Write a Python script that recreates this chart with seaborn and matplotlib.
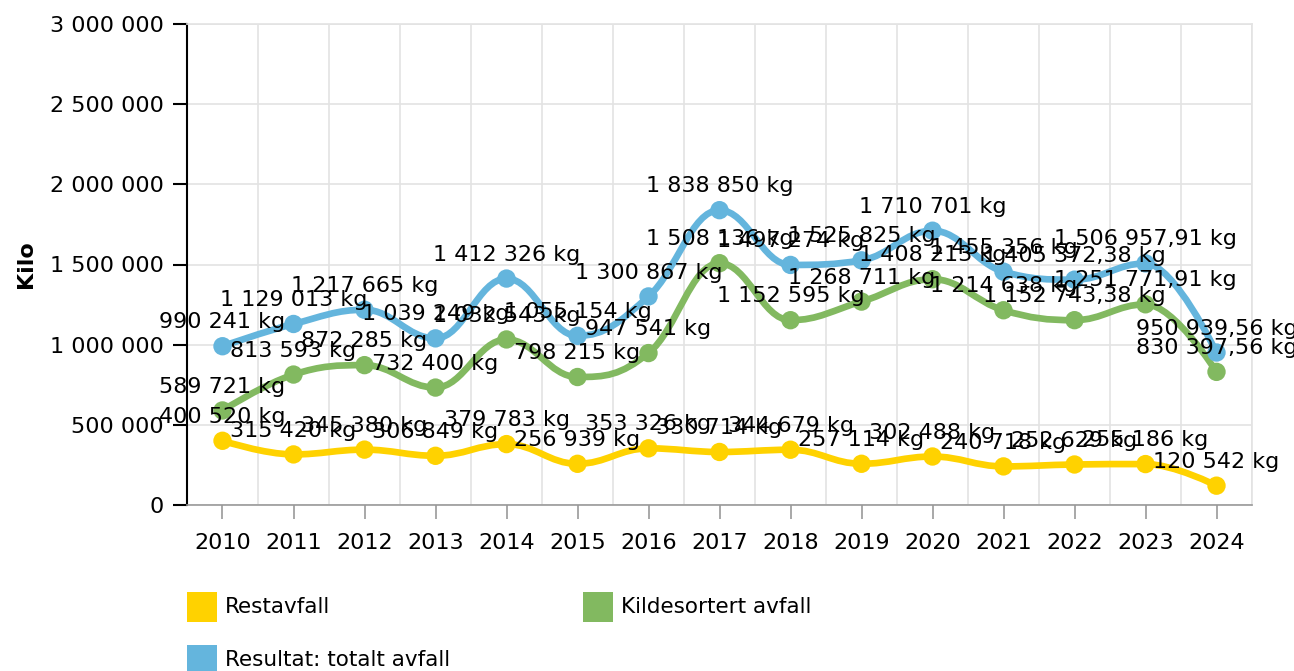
import matplotlib

matplotlib.use('Agg')
import matplotlib.pyplot as plt
import pandas as pd
import seaborn as sns
from matplotlib.patches import PathPatch, Rectangle
from matplotlib.path import Path
from matplotlib.ticker import FixedLocator, FuncFormatter

years = ['2010', '2011', '2012', '2013', '2014', '2015', '2016', '2017',
         '2018', '2019', '2020', '2021', '2022', '2023', '2024']
restavfall = [400520, 315420, 345380, 306849, 379783, 256939, 353326, 330714,
              344679, 257114, 302488, 240718, 252629, 255186, 120542]
kildesortert = [589721, 813593, 872285, 732400, 1032543, 798215, 947541, 1508136,
                1152595, 1268711, 1408213, 1214638, 1152743.38, 1251771.91, 830397.56]
totalt = [990241, 1129013, 1217665, 1039249, 1412326, 1055154, 1300867, 1838850,
          1497274, 1525825, 1710701, 1455356, 1405372.38, 1506957.91, 950939.56]
series_names = ['Restavfall', 'Kildesortert avfall', 'Resultat: totalt avfall']
colors = ['#ffd200', '#82b960', '#64b5dd']
y_ticks = [0, 500000, 1000000, 1500000, 2000000, 2500000, 3000000]


def fmt_space(v):
    return f'{int(v):,}'.replace(',', ' ')


def fmt_kg(v):
    if float(v).is_integer():
        text = f'{int(v):,}'.replace(',', ' ')
    else:
        text = f'{v:,.2f}'.replace(',', ' ').replace('.', ',')
    return f'{text} kg'


def spline_path(xs, ys):
    # highcharts-style spline control points
    n = len(xs)
    left = [None] * n
    right = [None] * n
    for i in range(1, n - 1):
        px, py = xs[i], ys[i]
        lx, ly = xs[i - 1], ys[i - 1]
        nx, ny = xs[i + 1], ys[i + 1]
        lcx = (1.5 * px + lx) / 2.5
        lcy = (1.5 * py + ly) / 2.5
        rcx = (1.5 * px + nx) / 2.5
        rcy = (1.5 * py + ny) / 2.5
        corr = ((rcy - lcy) * (rcx - px)) / (rcx - lcx) + py - rcy
        lcy += corr
        rcy += corr
        if lcy > ly and lcy > py:
            lcy = max(ly, py)
            rcy = 2 * py - lcy
        elif lcy < ly and lcy < py:
            lcy = min(ly, py)
            rcy = 2 * py - lcy
        if rcy > ny and rcy > py:
            rcy = max(ny, py)
            lcy = 2 * py - rcy
        elif rcy < ny and rcy < py:
            rcy = min(ny, py)
            lcy = 2 * py - rcy
        left[i] = (lcx, lcy)
        right[i] = (rcx, rcy)
    verts = [(xs[0], ys[0])]
    codes = [Path.MOVETO]
    for i in range(1, n):
        c1 = right[i - 1] or (xs[i - 1], ys[i - 1])
        c2 = left[i] or (xs[i], ys[i])
        verts += [c1, c2, (xs[i], ys[i])]
        codes += [Path.CURVE4] * 3
    return Path(verts, codes)


sns.set_theme(style='white')
plt.rcParams['font.family'] = ['DejaVu Sans']
plt.rcParams['text.color'] = 'black'
plt.rcParams['xtick.color'] = 'black'
plt.rcParams['ytick.color'] = 'black'

idx = list(range(len(years)))
df = pd.DataFrame({
    'idx': idx * 3,
    'value': restavfall + kildesortert + totalt,
    'series': [series_names[0]] * len(years) + [series_names[1]] * len(years) + [series_names[2]] * len(years),
})

fig = plt.figure(figsize=(12.94, 6.71), dpi=100)
ax = fig.add_axes([187 / 1294, 1 - 505 / 671, 1065 / 1294, 481 / 671])

for values, color in zip([restavfall, kildesortert, totalt], colors):
    ax.add_patch(PathPatch(spline_path(idx, values), facecolor='none', edgecolor=color,
                           lw=4.8, capstyle='round', joinstyle='round', zorder=2))

sns.scatterplot(data=df, x='idx', y='value', hue='series', palette=colors, hue_order=series_names,
                s=175, linewidth=0, legend=False, ax=ax, zorder=3)

for values in [restavfall, kildesortert, totalt]:
    for i, v in enumerate(values):
        ax.annotate(fmt_kg(v), (i, v), xytext=(0, 10), textcoords='offset points',
                    ha='center', va='bottom', fontsize=16, color='black',
                    zorder=5, annotation_clip=False)

ax.set_xlim(-0.5, len(years) - 0.5)
ax.set_ylim(0, 3000000)
ax.set_xticks(idx)
ax.set_xticklabels(years)
ax.xaxis.set_minor_locator(FixedLocator([i + 0.5 for i in idx]))
ax.set_yticks(y_ticks)
ax.yaxis.set_major_formatter(FuncFormatter(lambda v, p: fmt_space(v)))
ax.grid(True, axis='y', which='major', color='#e3e3e3', lw=1.2)
ax.grid(True, axis='x', which='minor', color='#e3e3e3', lw=1.2)
ax.grid(False, axis='x', which='major')
ax.tick_params(axis='x', which='major', length=10, width=1.2, color='#999999', pad=10,
               labelsize=16, labelcolor='black', bottom=True)
ax.tick_params(axis='x', which='minor', length=0)
ax.tick_params(axis='y', length=10, width=1.5, color='black', pad=7, labelsize=16,
               labelcolor='black', left=True)
ax.set_xlabel('')
ax.set_ylabel('Kilo', fontsize=16, fontweight='bold', color='black')
ax.yaxis.set_label_coords(-0.142, 0.5)

ax.spines['left'].set_color('black')
ax.spines['left'].set_linewidth(1.5)
ax.spines['bottom'].set_color('#999999')
ax.spines['bottom'].set_linewidth(1.2)
ax.spines['top'].set_color('#e3e3e3')
ax.spines['right'].set_color('#e3e3e3')
ax.spines['top'].set_linewidth(1.2)
ax.spines['right'].set_linewidth(1.2)

# legend
legend_pos = [(187, 592), (583, 592), (187, 645)]
for (lx, ly), name, color in zip(legend_pos, series_names, colors):
    fig.add_artist(Rectangle((lx / 1294, 1 - (ly + 30) / 671), 30 / 1294, 30 / 671,
                             transform=fig.transFigure, facecolor=color, edgecolor='none'))
    fig.text((lx + 38) / 1294, 1 - (ly + 15) / 671, name, fontsize=15.5, va='center', ha='left')

fig.savefig('out.png', dpi=100)
